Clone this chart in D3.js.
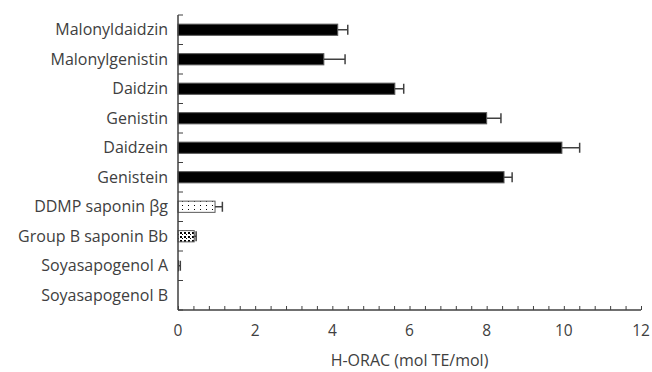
<!DOCTYPE html>
<html>
<head>
<meta charset="utf-8">
<script src="https://cdn.jsdelivr.net/npm/d3@7"></script>
<style>
  body { margin: 0; background: #fff; }
  text { font-family: "Open Sans", sans-serif; fill: #404040; }
</style>
</head>
<body>
<script>
  // values
  var compounds = ["Malonyldaidzin", "Malonylgenistin", "Daidzin", "Genistin", "Daidzein",
                   "Genistein", "DDMP saponin βg", "Group B saponin Bb", "Soyasapogenol A", "Soyasapogenol B"];
  var horac = [4.14, 3.78, 5.62, 8.0, 9.95, 8.45, 0.96, 0.42, 0.02, 0];
  var sd = [0.26, 0.55, 0.23, 0.37, 0.46, 0.21, 0.19, 0.05, 0.04, 0];
  var fills = ["black", "black", "black", "black", "black", "black", "url(#dots)", "url(#dense)", "black", "black"];
  var xTicks = [0, 2, 4, 6, 8, 10, 12];

  var svgWidth = 652, svgHeight = 372;
  var mLeft = 178, mRight = 641, mTop = 15, mBottom = 310;

  var svg = d3.select('body').append('svg')
    .attr('width', svgWidth)
    .attr('height', svgHeight);

  var defs = svg.append('defs');
  var p1 = defs.append('pattern').attr('id', 'dots')
    .attr('patternUnits', 'userSpaceOnUse').attr('width', 6).attr('height', 4);
  p1.append('rect').attr('width', 6).attr('height', 4).attr('fill', 'white');
  p1.append('rect').attr('x', 2).attr('y', 1).attr('width', 1).attr('height', 1).attr('fill', 'black');
  var p2 = defs.append('pattern').attr('id', 'dense')
    .attr('patternUnits', 'userSpaceOnUse').attr('width', 4).attr('height', 4);
  p2.append('rect').attr('width', 4).attr('height', 4).attr('fill', 'white');
  p2.append('rect').attr('x', 0).attr('y', 0).attr('width', 2).attr('height', 2).attr('fill', 'black');
  p2.append('rect').attr('x', 2).attr('y', 2).attr('width', 1).attr('height', 1).attr('fill', 'black');

  var x = d3.scaleLinear().domain([0, 12]).range([mLeft, mRight]);
  var y = d3.scaleBand().domain(compounds).range([mTop, mBottom]).paddingInner(0).paddingOuter(0);
  var barH = y.bandwidth() * 0.38;

  var data = compounds.map(function(c, i) { return {name: c, v: horac[i], e: sd[i], fill: fills[i]}; });

  // bars
  svg.selectAll('rect.bar')
    .data(data)
    .enter()
    .append('rect')
      .attr('class', 'bar')
      .attr('x', x(0))
      .attr('y', function(d) { return y(d.name) + (y.bandwidth() - barH) / 2; })
      .attr('width', function(d) { return x(d.v) - x(0); })
      .attr('height', barH)
      .attr('fill', function(d) { return d.fill; })
      .attr('stroke', function(d) { return d.v > 0.1 ? '#595959' : 'none'; })
      .attr('stroke-width', 1);

  // error bars
  var err = svg.selectAll('g.err')
    .data(data.filter(function(d) { return d.e > 0; }))
    .enter()
    .append('g')
      .attr('class', 'err')
      .attr('stroke', '#404040')
      .attr('stroke-width', 1.5);
  err.append('line')
    .attr('x1', function(d) { return x(d.v); })
    .attr('x2', function(d) { return x(d.v + d.e); })
    .attr('y1', function(d) { return y(d.name) + y.bandwidth() / 2; })
    .attr('y2', function(d) { return y(d.name) + y.bandwidth() / 2; });
  err.append('line')
    .attr('x1', function(d) { return x(d.v + d.e); })
    .attr('x2', function(d) { return x(d.v + d.e); })
    .attr('y1', function(d) { return y(d.name) + y.bandwidth() / 2 - 5; })
    .attr('y2', function(d) { return y(d.name) + y.bandwidth() / 2 + 5; });

  // x axis: minor ticks every 0.4 pointing up
  var xAxis = d3.axisBottom(x).tickValues(d3.range(0, 12.01, 0.4)).tickSize(-4).tickFormat('');
  var gx = svg.append('g').attr('transform', 'translate(0,' + mBottom + ')').call(xAxis);
  gx.select('.domain').attr('stroke', '#404040').attr('stroke-width', 1.5).attr('d', 'M' + mLeft + ',0H' + mRight);
  gx.selectAll('.tick line').attr('stroke', '#404040').attr('stroke-width', 1);

  svg.selectAll('text.xt')
    .data(xTicks)
    .enter()
    .append('text')
      .attr('class', 'xt')
      .attr('x', function(d) { return x(d); })
      .attr('y', 336)
      .attr('text-anchor', 'middle')
      .attr('font-size', 15.5)
      .text(function(d) { return d; });

  svg.append('text')
    .attr('x', (mLeft + mRight) / 2)
    .attr('y', 366)
    .attr('text-anchor', 'middle')
    .attr('font-size', 16)
    .text('H-ORAC (mol TE/mol)');

  // y axis: ticks at band boundaries pointing right
  var bounds = compounds.map(function(c) { return y(c); }).concat([mBottom]);
  svg.append('line')
    .attr('x1', mLeft).attr('x2', mLeft).attr('y1', mTop).attr('y2', mBottom)
    .attr('stroke', '#404040').attr('stroke-width', 1.5);
  svg.selectAll('line.yt')
    .data(bounds)
    .enter()
    .append('line')
      .attr('class', 'yt')
      .attr('x1', mLeft).attr('x2', mLeft + 5)
      .attr('y1', function(d) { return d; })
      .attr('y2', function(d) { return d; })
      .attr('stroke', '#404040').attr('stroke-width', 1);

  svg.selectAll('text.yl')
    .data(compounds)
    .enter()
    .append('text')
      .attr('class', 'yl')
      .attr('x', 168)
      .attr('y', function(d) { return y(d) + y.bandwidth() / 2 + 5.5; })
      .attr('text-anchor', 'end')
      .attr('font-size', 16)
      .text(function(d) { return d; });
</script>
</body>
</html>
